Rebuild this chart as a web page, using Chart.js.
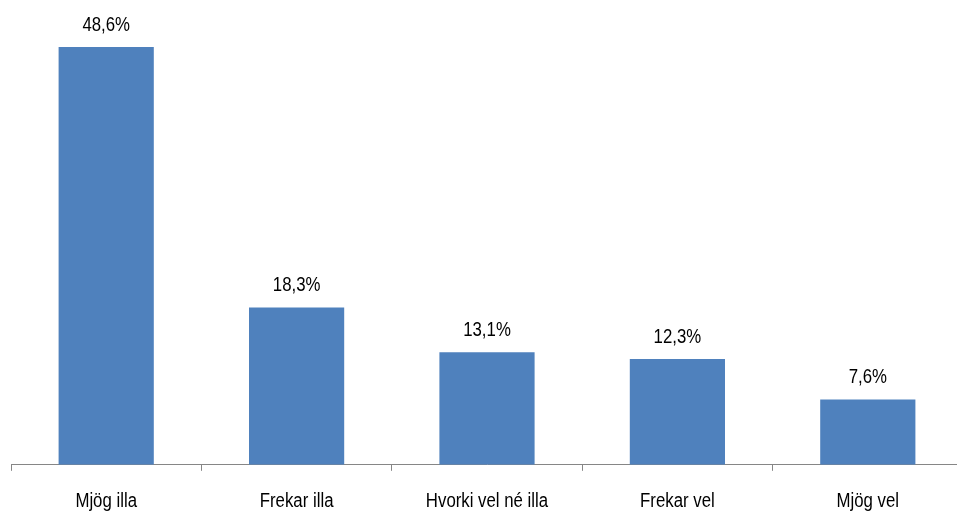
<!DOCTYPE html>
<html>
<head>
<meta charset="utf-8">
<script src="https://cdn.jsdelivr.net/npm/chart.js@4"></script>
<style>
html,body{margin:0;padding:0;background:#fff;overflow:hidden;width:957px;height:512px;}
canvas{display:block;}
</style>
</head>
<body>
<canvas id="c" width="963" height="520"></canvas>
<script>
const categories = ["Mjög illa", "Frekar illa", "Hvorki vel né illa", "Frekar vel", "Mjög vel"];
const values = [48.6, 18.3, 13.1, 12.3, 7.6];
const valueLabels = ["48,6%", "18,3%", "13,1%", "12,3%", "7,6%"];

const FONT = '"Liberation Sans", Arial, sans-serif';
const NARROW = 0.84;

function narrowText(ctx, text, x, y) {
  ctx.save();
  ctx.translate(x, y);
  ctx.scale(NARROW, 1);
  ctx.fillText(text, 0, 0);
  ctx.restore();
}

const labelPlugin = {
  id: 'narrowLabels',
  afterDraw(chart) {
    const ctx = chart.ctx;
    const meta = chart.getDatasetMeta(0);
    const xs = chart.scales.x;
    ctx.save();
    ctx.font = '20px ' + FONT;
    ctx.fillStyle = '#000';
    ctx.textAlign = 'center';
    ctx.textBaseline = 'alphabetic';
    meta.data.forEach((el, i) => {
      narrowText(ctx, valueLabels[i], el.x, el.y - 16);
    });
    xs.ticks.forEach((t, i) => {
      narrowText(ctx, xs.getLabelForValue(t.value), xs.getPixelForTick(i), xs.top + 42);
    });
    ctx.restore();
  }
};

new Chart(document.getElementById('c'), {
  type: 'bar',
  data: {
    labels: categories,
    datasets: [{
      data: values,
      backgroundColor: '#4F81BD',
      borderWidth: 0,
      categoryPercentage: 1,
      barPercentage: 0.5
    }]
  },
  options: {
    responsive: false,
    animation: false,
    layout: { padding: { top: 35, left: 11, right: 0, bottom: 0 } },
    plugins: { legend: { display: false }, tooltip: { enabled: false } },
    scales: {
      y: { display: false, min: 0, max: 50 },
      x: {
        offset: true,
        grid: { display: true, drawOnChartArea: false, drawTicks: true, tickLength: 6, color: '#868686', offset: true },
        border: { display: true, color: '#868686', width: 1 },
        ticks: { color: 'rgba(0,0,0,0)', padding: 12, font: { family: FONT, size: 21 }, maxRotation: 0 }
      }
    }
  },
  plugins: [labelPlugin]
});
</script>
</body>
</html>
